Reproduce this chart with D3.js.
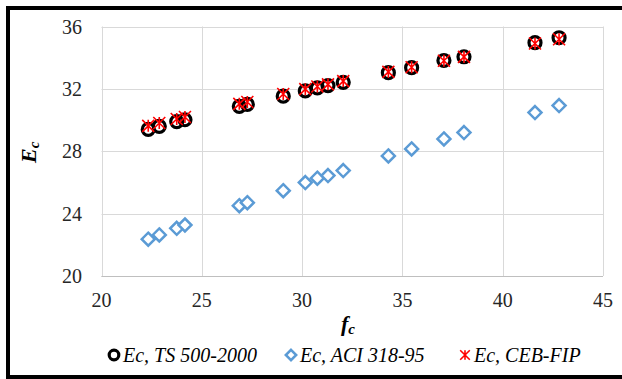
<!DOCTYPE html>
<html>
<head>
<meta charset="utf-8">
<style>
  body { margin: 0; background: #fff; }
  svg text { font-family: "Liberation Serif", "Times New Roman", serif; }
  .tick-label { font-size: 20px; fill: #262626; }
  .grid line { stroke: #d9d9d9; stroke-width: 1px; }
  .legend text { font-size: 20px; font-style: italic; fill: #000; }
</style>
</head>
<body>
<div id="chart"></div>
<script src="https://cdn.jsdelivr.net/npm/d3@7"></script>
<script>
// values
var fc = [22.33, 22.88, 23.75, 24.16, 26.87, 27.27, 29.06, 30.16, 30.76, 31.29,
          32.05, 34.30, 35.46, 37.07, 38.07, 41.61, 42.81];
var ecTS = [29.40, 29.60, 29.90, 30.02, 30.88, 31.00, 31.53, 31.87, 32.06, 32.21,
            32.42, 33.04, 33.36, 33.82, 34.06, 34.96, 35.28];
var ecACI = [22.36, 22.63, 23.06, 23.27, 24.51, 24.70, 25.47, 25.99, 26.27, 26.44,
             26.76, 27.70, 28.15, 28.79, 29.20, 30.48, 30.93];
var ecCEB = [29.63, 29.81, 30.07, 30.20, 31.04, 31.16, 31.67, 31.98, 32.15, 32.29,
             32.50, 33.09, 33.39, 33.80, 34.05, 34.91, 35.18];
var xTicks = [20, 25, 30, 35, 40, 45];
var yTicks = [20, 24, 28, 32, 36];
var seriesNames = ["Ec, TS 500-2000", "Ec, ACI 318-95", "Ec, CEB-FIP"];

var W = 622, H = 379;
var plot = { left: 101.5, right: 603, top: 26.5, bottom: 276 };

var svg = d3.select("#chart").append("svg")
  .attr("width", W).attr("height", H);

// outer frame
svg.append("rect")
  .attr("x", 8).attr("y", 8)
  .attr("width", 620).attr("height", 369)
  .attr("fill", "none").attr("stroke", "#000").attr("stroke-width", 4);

var x = d3.scaleLinear().domain([20, 45]).range([plot.left, plot.right]);
var y = d3.scaleLinear().domain([20, 36]).range([plot.bottom, plot.top]);

// grid
var grid = svg.append("g").attr("class", "grid");
grid.selectAll("line.v").data(xTicks).enter().append("line")
  .attr("class", "v")
  .attr("x1", function (d) { return Math.round(x(d)) + 0.5; })
  .attr("x2", function (d) { return Math.round(x(d)) + 0.5; })
  .attr("y1", plot.top).attr("y2", plot.bottom);
grid.selectAll("line.h").data(yTicks).enter().append("line")
  .attr("class", "h")
  .attr("y1", function (d) { return Math.round(y(d)) + 0.5; })
  .attr("y2", function (d) { return Math.round(y(d)) + 0.5; })
  .attr("x1", plot.left).attr("x2", plot.right);
// bottom axis line a bit darker
svg.append("line")
  .attr("x1", plot.left).attr("x2", plot.right)
  .attr("y1", Math.round(y(20)) + 0.5).attr("y2", Math.round(y(20)) + 0.5)
  .attr("stroke", "#bfbfbf");

// tick labels
svg.append("g").selectAll("text").data(yTicks).enter().append("text")
  .attr("class", "tick-label")
  .attr("x", 82)
  .attr("y", function (d) { return y(d); })
  .attr("dy", "0.35em")
  .attr("text-anchor", "end")
  .text(function (d) { return d; });
svg.append("g").selectAll("text").data(xTicks).enter().append("text")
  .attr("class", "tick-label")
  .attr("x", function (d) { return x(d); })
  .attr("y", 307)
  .attr("text-anchor", "middle")
  .text(function (d) { return d; });

// axis titles
var xt = svg.append("text")
  .attr("x", 341).attr("y", 331)
  .attr("font-size", 22).attr("font-weight", "bold").attr("font-style", "italic");
xt.append("tspan").text("f");
xt.append("tspan").attr("font-size", 15).attr("dy", 3).text("c");

var yt = svg.append("text")
  .attr("transform", "translate(36,163) rotate(-90)")
  .attr("font-size", 22).attr("font-weight", "bold").attr("font-style", "italic");
yt.append("tspan").text("E");
yt.append("tspan").attr("font-size", 15).attr("dy", 3).text("c");

// marker drawers
function diamond(g, cx, cy, s) {
  var r = 6.5 * (s || 1);
  g.append("path")
    .attr("d", "M" + cx + "," + (cy - r) + "L" + (cx + r) + "," + cy +
               "L" + cx + "," + (cy + r) + "L" + (cx - r) + "," + cy + "Z")
    .attr("fill", "#fff").attr("stroke", "#5b9bd5").attr("stroke-width", 2.5);
}
function ring(g, cx, cy, s) {
  g.append("circle").attr("cx", cx).attr("cy", cy).attr("r", 6 * (s || 1))
    .attr("fill", "none").attr("stroke", "#000").attr("stroke-width", 3.2);
}
function star(g, cx, cy, s) {
  var r = 6 * (s || 1);
  var d = "M" + (cx - r) + "," + (cy - r) + "L" + (cx + r) + "," + (cy + r) +
          "M" + (cx + r) + "," + (cy - r) + "L" + (cx - r) + "," + (cy + r) +
          "M" + cx + "," + (cy - r) + "L" + cx + "," + (cy + r);
  g.append("path").attr("d", d)
    .attr("stroke", "#ff0000").attr("stroke-width", 1.6).attr("fill", "none");
}

var marks = svg.append("g");
fc.forEach(function (f, i) { diamond(marks, x(f), y(ecACI[i])); });
fc.forEach(function (f, i) { ring(marks, x(f), y(ecTS[i])); });
fc.forEach(function (f, i) { star(marks, x(f), y(ecCEB[i])); });

// legend
var lg = svg.append("g").attr("class", "legend");
var legendItems = [
  { draw: ring, mx: 114, tx: 123 },
  { draw: diamond, mx: 291, tx: 300 },
  { draw: star, mx: 465, tx: 474 }
];
legendItems.forEach(function (it, i) {
  it.draw(lg, it.mx, 355, 0.8);
  lg.append("text").attr("x", it.tx).attr("y", 355).attr("dy", "0.33em")
    .text(seriesNames[i]);
});
</script>
</body>
</html>
